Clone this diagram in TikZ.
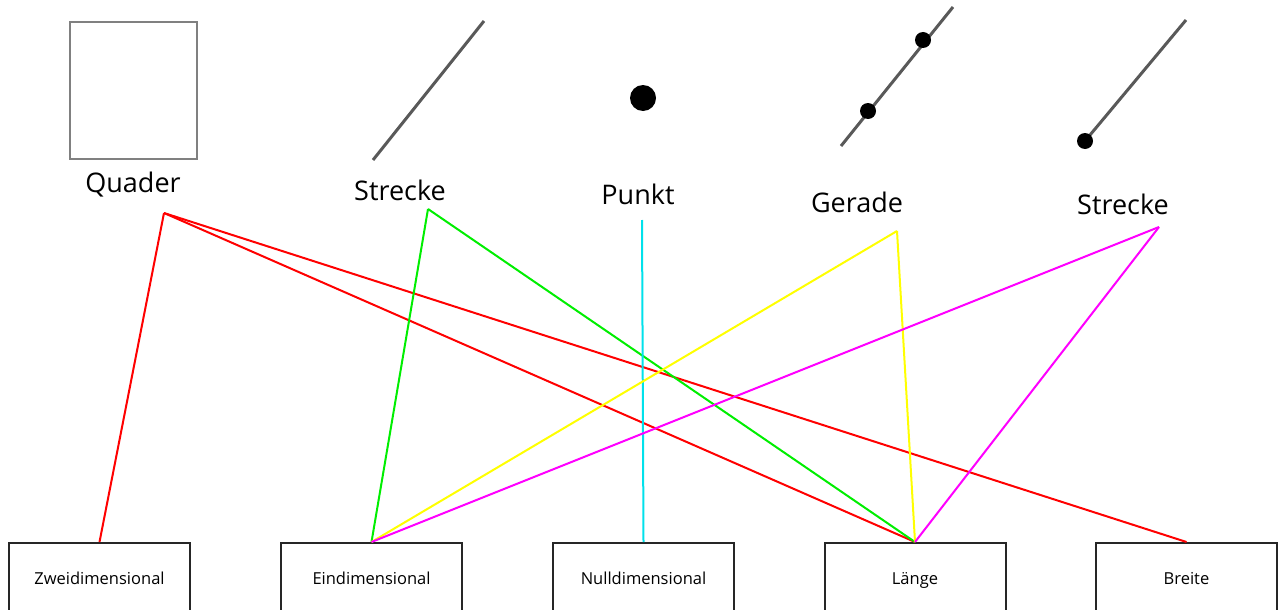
\documentclass[tikz,border=0pt]{standalone}
\usepackage{fontspec}
\setmainfont{Open Sans}
\usetikzlibrary{positioning}
\definecolor{gruen}{RGB}{0,238,0}
\definecolor{tuerkis}{RGB}{0,225,235}
\definecolor{gelb}{RGB}{255,255,0}
\definecolor{pink}{RGB}{255,0,255}

\begin{document}
\begin{tikzpicture}[x=1pt,y=-1pt,line width=2pt]
\tikzstyle{figur}=[font=\fontsize{27}{30}\selectfont, inner sep=0pt]
\tikzstyle{kasten}=[draw=black!85, line width=2pt, minimum width=181pt, minimum height=74pt, inner sep=0pt, text height=11pt, text depth=3pt, font=\fontsize{16.5}{18}\selectfont]
\tikzstyle{linie}=[draw=black!65, line width=3pt]
\tikzstyle{pkt}=[circle, fill=black, inner sep=0pt, minimum size=16pt]
\useasboundingbox (0,0) rectangle (1279,610);
\clip (0,0) rectangle (1279,610);

% Bilder oben
\draw[draw=black!50, line width=2pt] (70,22) rectangle (197,159);
\draw[linie] (373,160) -- (484,21);
\node[pkt, minimum size=26pt] (dot) at (643,98) {};
\draw[linie] (841,146) -- (953,7);
\node[pkt] (g1) at (868,111) {};
\node[pkt] (g2) at (923,40) {};
\draw[linie] (1085,141) -- (1186,20);
\node[pkt] (s2dot) at (1085,141) {};

% Beschriftungen
\node[figur] (quader) at (133,185) {Quader};
\node[figur] (strecke1) at (400,190) {Strecke};
\node[figur] (punkt) at (638,194) {Punkt};
\node[figur] (gerade) at (857,202) {Gerade};
\node[figur] (strecke2) at (1123,204) {Strecke};

\coordinate (q) at (164,213);
\coordinate (s1) at (428,209);
\coordinate (p) at (642,220);
\coordinate (g) at (897,231);
\coordinate (s2) at (1159,227);

% Kaesten unten
\foreach \name/\x/\text in {zwei/99.5/Zweidimensional, ein/371.5/Eindimensional, null/643.5/Nulldimensional, laenge/915/Länge, breite/1186.5/Breite}
    \node[kasten] (\name) at (\x,580) {\text};

\foreach \von/\nach/\farbe in {q/zwei/red, q/laenge/red, q/breite/red, s1/ein/gruen, s1/laenge/gruen, p/null/tuerkis, g/ein/gelb, g/laenge/gelb, s2/ein/pink, s2/laenge/pink}
       {
        \draw[\farbe] (\von) -- (\nach.north);
       }
\end{tikzpicture}
\end{document}
